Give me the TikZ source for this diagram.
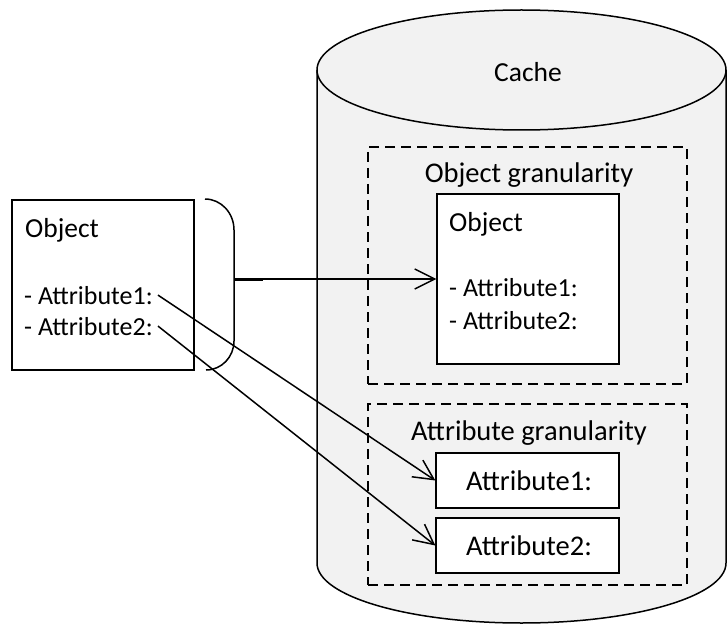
\documentclass[tikz,border=0pt]{standalone}
\usepackage{fontspec}
\setmainfont{Carlito}
\usetikzlibrary{arrows.meta}
\definecolor{cachefill}{HTML}{F2F2F2}
\begin{document}
\begin{tikzpicture}[x=1pt,y=1pt,
  lbl/.style={inner sep=0pt, font=\fontsize{26}{30}\selectfont},
  biglbl/.style={inner sep=0pt, font=\fontsize{28.5}{32}\selectfont},
  box/.style={draw, line width=1.3pt, fill=white, inner sep=0pt},
  group/.style={draw, line width=1.3pt, dash pattern=on 10pt off 6pt},
  outline/.style={line width=1.5pt},
  link/.style={line width=1.5pt, -{Straight Barb[length=20pt,width=20pt,line width=1.5pt]}}
]
\useasboundingbox (0,0) rectangle (728,625);

% cache cylinder
\fill[cachefill] (317,555) -- (317,62)
  arc[start angle=180, end angle=360, x radius=204.5, y radius=60]
  -- (726,555) arc[start angle=0, end angle=180, x radius=204.5, y radius=60] -- cycle;
\draw[outline] (521.5,555) ellipse[x radius=204.5, y radius=60];
\draw[outline] (317,555) -- (317,62)
  arc[start angle=180, end angle=360, x radius=204.5, y radius=60] -- (726,555);
\node[lbl, font=\fontsize{27.5}{31}\selectfont, anchor=base] (cache) at (528,543) {Cache};

% granularity groups
\node[group, minimum width=319pt, minimum height=237pt, inner sep=0pt] (objgroup) at (527.5,359.5) {};
\node[biglbl, anchor=base] (objgrouplbl) at (529,442) {Object granularity};
\node[group, minimum width=319pt, minimum height=181pt, inner sep=0pt] (attrgroup) at (527.5,130.5) {};
\node[biglbl, anchor=base] (attrgrouplbl) at (529,185) {Attribute granularity};

% source object
\node[box, minimum width=182pt, minimum height=170pt] (srcobj) at (103,340) {};
\node[lbl, font=\fontsize{27.5}{31}\selectfont, anchor=base west] (srcname) at (25,388) {Object};
\node[lbl, anchor=base west] (srca1) at (24,321) {- Attribute1:};
\node[lbl, anchor=base west] (srca2) at (24,290) {- Attribute2:};

% cached object
\node[box, minimum width=182pt, minimum height=170pt] (cobj) at (528,346) {};
\node[lbl, font=\fontsize{27.5}{31}\selectfont, anchor=base west] (cname) at (449,393) {Object};
\node[lbl, anchor=base west] (ca1) at (449,329) {- Attribute1:};
\node[lbl, anchor=base west] (ca2) at (449,296) {- Attribute2:};

% cached attributes
\node[box, minimum width=183pt, minimum height=55pt] (cattr1) at (527.5,144.5) {};
\node[biglbl, anchor=base] (cattr1lbl) at (529,135) {Attribute1:};
\node[box, minimum width=183pt, minimum height=55pt] (cattr2) at (527.5,79.5) {};
\node[biglbl, anchor=base] (cattr2lbl) at (529,70) {Attribute2:};

% brace grouping the whole object
\draw[outline] (205,426) arc[start angle=90, end angle=0, x radius=29, y radius=31]
  -- (234,284) arc[start angle=0, end angle=-90, x radius=28, y radius=29];
\coordinate (bracetip) at (234,346);
\coordinate (stubend) at (263,346);
\draw[line width=3pt] (bracetip) -- (stubend);

% connectors
\draw[link] (stubend) -- (cobj.west);
\draw[link] ([xshift=5pt]srca1.east) -- (cattr1.west);
\draw[link] ([xshift=5pt]srca2.east) -- (cattr2.west);
\end{tikzpicture}
\end{document}
